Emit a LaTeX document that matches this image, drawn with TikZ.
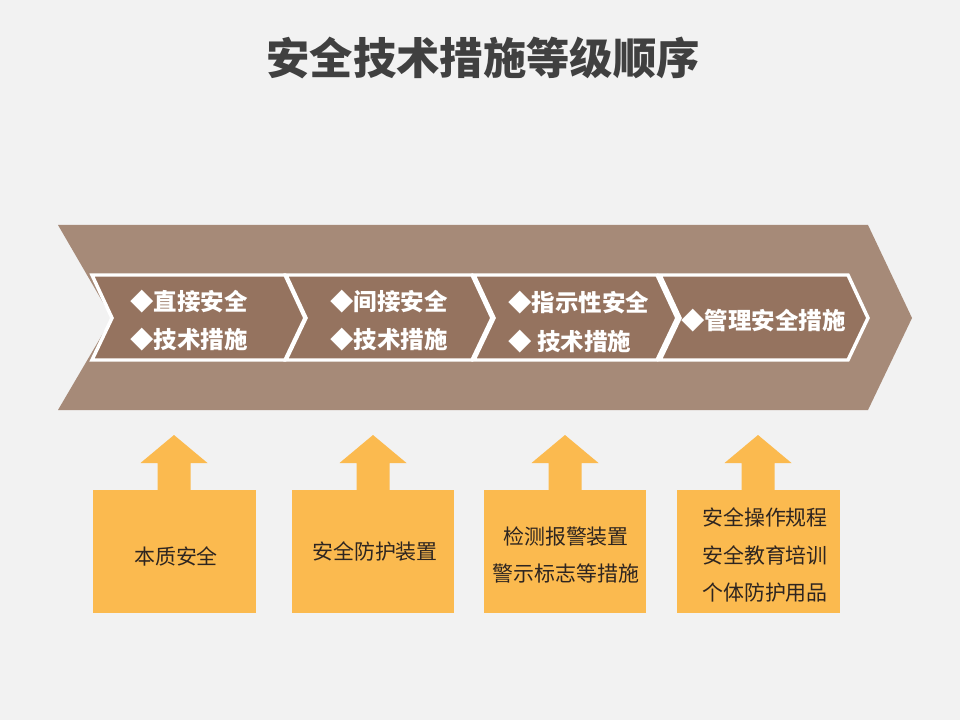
\documentclass[tikz,border=0pt]{standalone}
\usepackage{fontspec}
\setmainfont{Noto Sans CJK SC}
\definecolor{bgc}{HTML}{F2F2F2}
\definecolor{band}{HTML}{A68A78}
\definecolor{chev}{HTML}{95735F}
\definecolor{gold}{HTML}{FBBA4F}
\definecolor{titlec}{HTML}{404040}
\definecolor{boxtext}{HTML}{2E2520}
\tikzset{
  chevtext/.style={anchor=west,text=white,font=\fontsize{17.6}{20}\selectfont\bfseries,inner sep=0pt},
  boxtxt/.style={text=boxtext,font=\fontsize{15.7}{19}\selectfont,inner sep=0pt},
  chevshape/.style={fill=chev,draw=white,line width=2.6pt,line join=miter},
}
\begin{document}
\begin{tikzpicture}[x=0.75pt,y=-0.75pt]
\fill[bgc] (0,0) rectangle (960,720);
\useasboundingbox (0,0) rectangle (960,720);
% title
\node[text=titlec,font=\fontsize{32.5}{36}\selectfont\bfseries] (title) at (483,58) {安全技术措施等级顺序};
% band
\fill[band] (58,225) -- (868,225) -- (912,318) -- (868,410) -- (58,410) -- (112,318) -- cycle;
% chevrons
\foreach \L/\R in {92/285, 286/472, 474/657, 660/848}{
  \draw[chevshape] (\L,275) -- (\R,275) -- (\R+20,318) -- (\R,360) -- (\L,360) -- (\L+20,318) -- cycle;
}
\node[chevtext] (c1a) at (130,302) {◆直接安全};
\node[chevtext] (c1b) at (130,340) {◆技术措施};
\node[chevtext] (c2a) at (330,302) {◆间接安全};
\node[chevtext] (c2b) at (330,340) {◆技术措施};
\node[chevtext] (c3a) at (508,303) {◆指示性安全};
\node[chevtext] (c3b) at (508,342) {◆ 技术措施};
\node[chevtext] (c4a) at (681,321) {◆管理安全措施};
% boxes and arrows
\foreach \bl/\br/\tip/\n in {93/256/174/1, 292/454/373/2, 484/646/565/3, 677/840/758/4}{
  \fill[gold] (\bl,490) rectangle (\br,613);
  \fill[gold] (\tip-16.5,491) -- (\tip-16.5,463) -- (\tip-33.5,463) -- (\tip,435) -- (\tip+33.5,463) -- (\tip+16.5,463) -- (\tip+16.5,491) -- cycle;
  \coordinate (b\n) at ({(\bl+\br)/2},551);
}
\node[boxtxt] (t1) at (176,556) {本质安全};
\node[boxtxt] (t2) at (375,551) {安全防护装置};
\node[boxtxt] (t3a) at (566,537) {检测报警装置};
\node[boxtxt] (t3b) at (566,573) {警示标志等措施};
\node[boxtxt] (t4a) at (765,517) {安全操作规程};
\node[boxtxt] (t4b) at (765,555) {安全教育培训};
\node[boxtxt] (t4c) at (765,593) {个体防护用品};
\end{tikzpicture}
\end{document}
